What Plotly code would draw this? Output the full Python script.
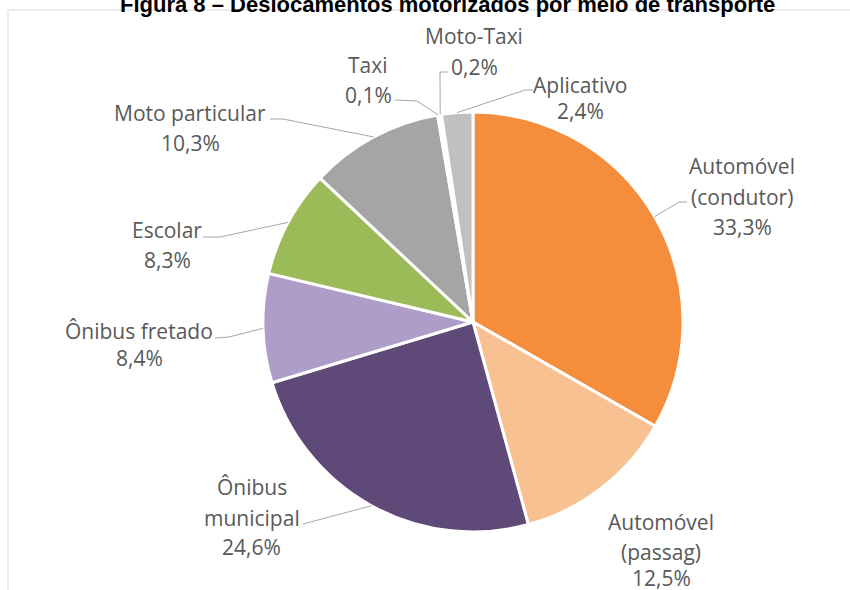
import math
import plotly.graph_objects as go

# Deslocamentos motorizados por meio de transporte (%)
modos = [
    "Automóvel (condutor)",
    "Automóvel (passag)",
    "Ônibus municipal",
    "Ônibus fretado",
    "Escolar",
    "Moto particular",
    "Taxi",
    "Moto-Taxi",
    "Aplicativo",
]
participacao = [33.3, 12.5, 24.6, 8.4, 8.3, 10.3, 0.1, 0.2, 2.4]
rotulos = [
    ["Automóvel", "(condutor)"],
    ["Automóvel", "(passag)"],
    ["Ônibus", "municipal"],
    ["Ônibus fretado"],
    ["Escolar"],
    ["Moto particular"],
    ["Taxi"],
    ["Moto-Taxi"],
    ["Aplicativo"],
]
cores = ["#F58E3C", "#F8C192", "#5E4979", "#AF9DC9", "#9BBB59",
         "#A5A5A5", "#E4E4E4", "#EDEDED", "#C0C0C0"]

W, H = 850, 590
CX, CY, R = 473, 322, 210
FONTE = "Open Sans"
COR_TEXTO = "#595959"
COR_GUIA = "#A6A6A6"

# label placement (pixels): text centre x, row centres y, leader points on the label side
layout_rotulos = [
    dict(x=742, y=[166, 197, 227], guia=[(687, 202), (679, 202)]),
    dict(x=661, y=[522, 552, 578], guia=None),
    dict(x=252, y=[487, 518, 547], guia=[(303, 524)]),
    dict(x=139, y=[331, 358], guia=[(215, 338), (229, 337)]),
    dict(x=167, y=[230, 260], guia=[(203, 237), (220, 237)]),
    dict(x=190, y=[113, 143], guia=[(270, 119), (283, 119)]),
    dict(x=368, y=[65, 95], guia=[(395, 100), (417, 101)]),
    dict(x=474, y=[36, 67], guia=[(448, 72), (440, 72)]),
    dict(x=580, y=[85, 111], guia=[(533, 90), (525, 90)]),
]


def fx(x):
    return x / W


def fy(y):
    return 1 - y / H


fig = go.Figure(
    go.Pie(
        labels=modos,
        values=participacao,
        sort=False,
        direction="clockwise",
        rotation=0,
        textinfo="none",
        hoverinfo="label+percent",
        showlegend=False,
        marker=dict(colors=cores, line=dict(color="white", width=3)),
        domain=dict(x=[fx(CX - R), fx(CX + R)], y=[fy(CY + R), fy(CY - R)]),
    )
)

anotacoes = []
formas = []
total = sum(participacao)
acumulado = 0.0
for valor, linhas, pos in zip(participacao, rotulos, layout_rotulos):
    meio = (acumulado + valor / 2) / total * 2 * math.pi
    acumulado += valor
    pct = f"{valor:.1f}".replace(".", ",") + "%"
    textos = linhas + [pct]
    for texto, y in zip(textos, pos["y"]):
        anotacoes.append(dict(
            x=fx(pos["x"]), y=fy(y), xref="paper", yref="paper",
            text=texto, showarrow=False, xanchor="center", yanchor="middle",
            font=dict(family=FONTE, size=21, color=COR_TEXTO),
        ))
    if pos["guia"]:
        borda = (CX + R * math.sin(meio), CY - R * math.cos(meio))
        pts = pos["guia"] + [borda]
        caminho = "M " + " L ".join(f"{fx(px)},{fy(py)}" for px, py in pts)
        formas.append(dict(type="path", path=caminho, xref="paper", yref="paper",
                           line=dict(color=COR_GUIA, width=1)))

# chart frame
formas.append(dict(type="rect", xref="paper", yref="paper",
                   x0=fx(8), y0=fy(600), x1=fx(860), y1=fy(10),
                   line=dict(color="#D9D9D9", width=1), layer="below"))

anotacoes.append(dict(
    x=fx(447), y=fy(5), xref="paper", yref="paper",
    text="<b>Figura 8 – Deslocamentos motorizados por meio de transporte</b>",
    showarrow=False, xanchor="center", yanchor="middle",
    font=dict(family="Liberation Sans, Arial", size=22, color="#000000"),
))

fig.update_layout(
    width=W, height=H,
    margin=dict(l=0, r=0, t=0, b=0),
    paper_bgcolor="white",
    plot_bgcolor="white",
    annotations=anotacoes,
    shapes=formas,
)

fig.write_html("out.html")
